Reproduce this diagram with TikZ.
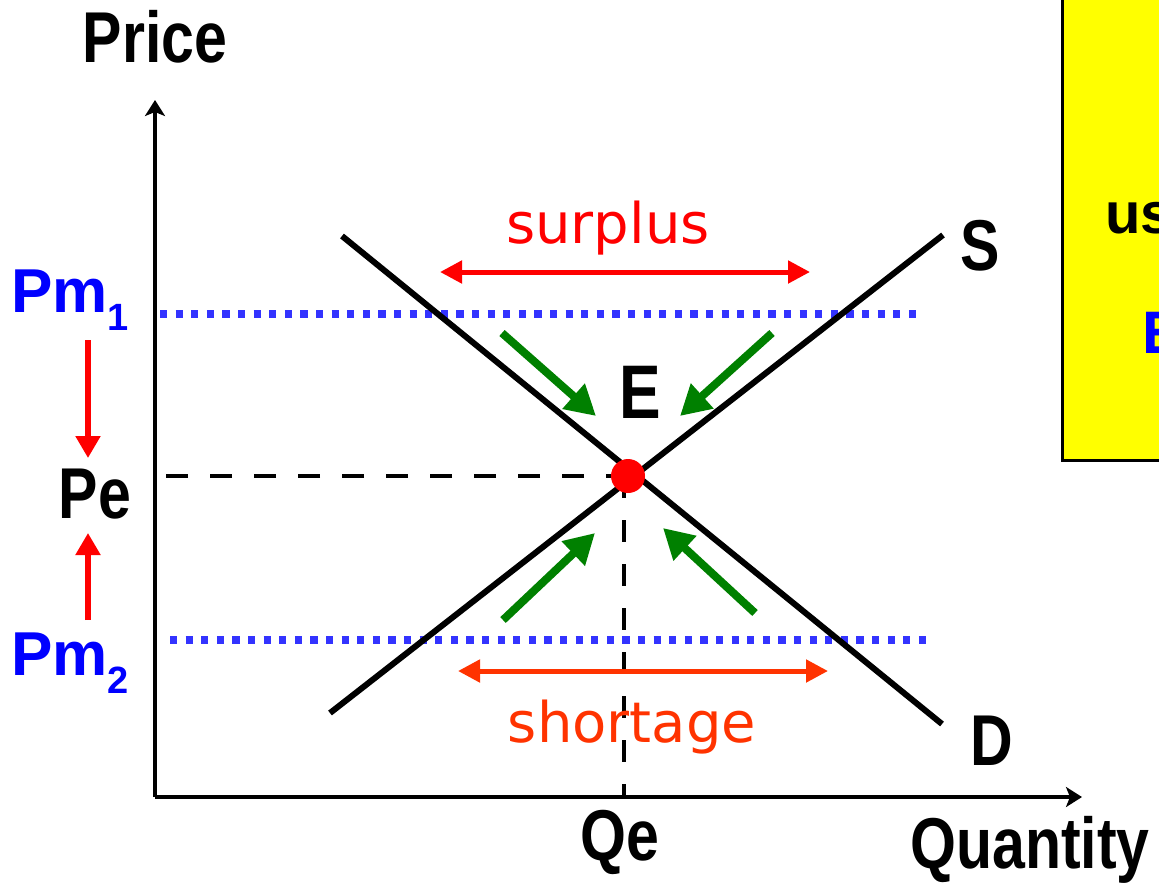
\documentclass[tikz,border=0pt]{standalone}
\usepackage{fontspec}
\usepackage{xcolor}
\setmainfont{Liberation Sans}
\newfontfamily\narrowfont{Liberation Sans}[FakeStretch=0.82]
\newfontfamily\handfont{DejaVu Sans}
\usetikzlibrary{arrows.meta}

\definecolor{dotblue}{HTML}{3333FF}
\definecolor{shortred}{HTML}{FF3300}
\definecolor{arrowgreen}{HTML}{008000}
\definecolor{noteyellow}{HTML}{FFFF00}

\tikzset{
  axislabel/.style={font=\narrowfont\bfseries\fontsize{36}{36}\selectfont, anchor=base},
  pricelabel/.style={font=\bfseries\fontsize{31}{31}\selectfont, text=blue, anchor=base},
  curve/.style={line width=3pt, line cap=butt},
  pricefloor/.style={line width=3.6pt, dotblue, dash pattern=on 3.6pt off 4.2pt},
  guide/.style={line width=2.3pt, dash pattern=on 11pt off 11pt},
  gaparrow/.style={line width=2.5pt, {Triangle[length=11pt,width=11pt]}-{Triangle[length=11pt,width=11pt]}},
  pusharrow/.style={line width=4pt, arrowgreen, -{Triangle[length=15pt,width=16pt]}},
  movearrow/.style={line width=2.6pt, red, -{Triangle[length=11pt,width=12pt]}}
}

\newcommand{\sub}[1]{\raisebox{-9pt}{\fontsize{19}{19}\selectfont #1}}

\begin{document}
\begin{tikzpicture}[x=0.5pt, y=-0.5pt]
      \useasboundingbox (0,0) rectangle (1159,888);

      % Note box (cut off at the right)
      \begin{scope}
          \clip (0,0) rectangle (1159,888);
          \draw[fill=noteyellow, line width=1.5pt] (1062,-10) rectangle (1200,460);
          \node[font=\bfseries\fontsize{29}{29}\selectfont, anchor=base west, inner sep=0pt] (note1) at (1105,233) {us};
          \node[font=\bfseries\fontsize{30}{30}\selectfont, text=blue, anchor=base west, inner sep=0pt] (note2) at (1142,353) {E};
      \end{scope}

      % Axes
      \coordinate (O) at (155,797);
      \coordinate (ytip) at (155,100);
      \coordinate (xtip) at (1082,797);
      \draw[line width=2pt, -{Stealth[length=8pt,width=10pt,inset=2pt]}] (O) -- (ytip);
      \draw[line width=2pt, -{Stealth[length=8pt,width=10pt,inset=2pt]}] (O) -- (xtip);
      \node[axislabel] (price) at (155,62) {Price};
      \node[axislabel] (quantity) at (1030,868) {Quantity};

      % Price floors and ceilings
      \coordinate (pm1a) at (160,314);
      \coordinate (pm1b) at (918,314);
      \coordinate (pm2a) at (170,640);
      \coordinate (pm2b) at (930,640);
      \draw[pricefloor] (pm1a) -- (pm1b);
      \draw[pricefloor] (pm2a) -- (pm2b);

      % Equilibrium guides
      \coordinate (E) at (628,476);
      \coordinate (peaxis) at (160,476);
      \coordinate (qeaxis) at (624,795);
      \draw[guide] (E) -- (peaxis);
      \draw[guide] (624,476) -- (qeaxis);

      % Supply and demand
      \coordinate (s0) at (330,713);
      \coordinate (s1) at (943,235);
      \coordinate (d0) at (342,236);
      \coordinate (d1) at (942,724);
      \draw[curve] (s0) -- (s1);
      \draw[curve] (d0) -- (d1);
      \node[axislabel] (S) at (980,270) {S};
      \node[axislabel] (D) at (992,765) {D};

      % Equilibrium point
      \fill[red] (E) circle (8.5pt);
      \node[axislabel, font=\narrowfont\bfseries\fontsize{38}{38}\selectfont] (elabel) at (640,418) {E};

      % Surplus and shortage
      \coordinate (su0) at (440,272);
      \coordinate (su1) at (810,272);
      \coordinate (sh0) at (458,671);
      \coordinate (sh1) at (828,671);
      \draw[gaparrow, red] (su0) -- (su1);
      \draw[gaparrow, shortred] (sh0) -- (sh1);
      \node[font=\handfont\fontsize{28}{28}\selectfont, text=red, anchor=base] (surplus) at (608,243) {surplus};
      \node[font=\handfont\fontsize{28}{28}\selectfont, text=shortred, anchor=base] (shortage) at (632,742) {shortage};

      % Pressure towards E
      \coordinate (g1a) at (502,333);
      \coordinate (g1b) at (596,416);
      \coordinate (g2a) at (772,333);
      \coordinate (g2b) at (680,416);
      \coordinate (g3a) at (503,620);
      \coordinate (g3b) at (595,533);
      \coordinate (g4a) at (755,613);
      \coordinate (g4b) at (663,528);
      \draw[pusharrow] (g1a) -- (g1b);
      \draw[pusharrow] (g2a) -- (g2b);
      \draw[pusharrow] (g3a) -- (g3b);
      \draw[pusharrow] (g4a) -- (g4b);

      % Price labels
      \node[pricelabel] (pm1) at (70,312) {Pm\sub{1}};
      \node[pricelabel] (pm2) at (70,675) {Pm\sub{2}};
      \node[axislabel] (pe) at (95,518) {Pe};
      \coordinate (r1a) at (88,340);
      \coordinate (r1b) at (88,458);
      \coordinate (r2a) at (88,620);
      \coordinate (r2b) at (88,533);
      \draw[movearrow] (r1a) -- (r1b);
      \draw[movearrow] (r2a) -- (r2b);

      % Quantity label
      \node[axislabel] (qe) at (620,860) {Qe};

  \end{tikzpicture}
\end{document}
